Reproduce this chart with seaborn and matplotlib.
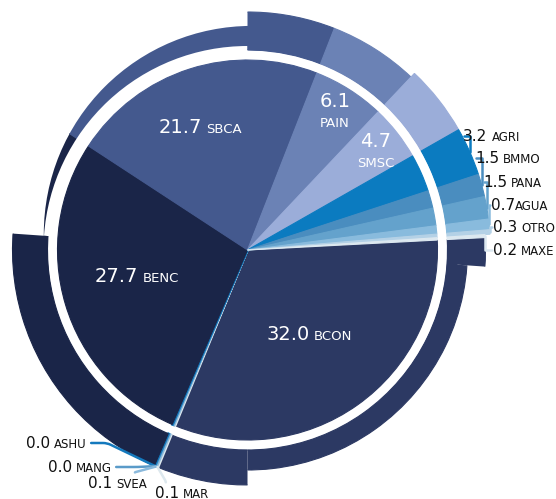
import matplotlib
matplotlib.use("Agg")
import matplotlib.pyplot as plt
import seaborn as sns
import numpy as np
from matplotlib.patches import Wedge, Circle
from matplotlib.offsetbox import TextArea, HPacker, VPacker, AnnotationBbox

sns.set_theme(style="white")
plt.rcParams["font.family"] = ["DejaVu Sans"]

# shares (%), in drawing order (clockwise from the right)
categories = ["BCON", "MAR", "SVEA", "MANG", "ASHU", "BENC", "SBCA", "PAIN",
              "SMSC", "AGRI", "BMMO", "PANA", "AGUA", "OTRO", "MAXE"]
shares = [32.0, 0.1, 0.1, 0.04, 0.04, 27.7, 21.7, 6.1,
          4.7, 3.2, 1.5, 1.5, 0.7, 0.3, 0.2]
colors = ["#2c3963", "#dde8ee", "#8ab9dc", "#5a9bc9", "#1479bd", "#1a2548",
          "#44598e", "#6b82b5", "#9badd9", "#0b7bc0", "#4a8dbf", "#64a2cc",
          "#89bbdd", "#b4d1e6", "#dce8f0"]

W, H = 556, 499


def px(x, y):
    # pixel position (y from top) -> data coords
    return (x, H - y)


CX, CY = px(247.5, 250)
START = 3

fig = plt.figure(figsize=(W / 100, H / 100), dpi=100)
ax = fig.add_axes([0, 0, 1, 1])


def pie(radius, width=None, center=(CX, CY)):
    wp = dict(linewidth=0.8)
    if width:
        wp["width"] = width
    wedges, _ = ax.pie(shares, colors=colors, startangle=START, counterclock=False,
                       radius=radius, center=center, wedgeprops=wp)
    for w, v in zip(wedges, shares):
        w.set_edgecolor(w.get_facecolor())
        if v < 0.2:
            w.set_linewidth(1.6)   # keep the tiny slices visible
    return wedges


def clip_all(wedges, patch):
    for w in wedges:
        w.set_clip_on(True)
        w.set_clip_path(patch)


# === outer ring ===
# upper-left quarter: off-centre outer edge, tapers out on the left
q2 = pie(300)
clip_all(q2, Circle((CX + 4.3, CY + 16.1), 208, transform=ax.transData))
ax.add_patch(Wedge((CX, CY), 204, 90, 176, facecolor="white", edgecolor="none"))
ax.add_patch(Circle((CX, CY), 200, facecolor="white", edgecolor="none"))

wide = ["SMSC", "AGRI", "BMMO", "PANA", "AGUA", "OTRO"]
rings = {}
for name, a0, a1, r, wd in [("q1", -4, 90, 238, 38), ("q3", 176, 270, 235, 35),
                            ("q4", 270, 356, 220, 20)]:
    ws = pie(r, wd)
    clip_all(ws, Wedge((CX, CY), 300, a0, a1, transform=ax.transData))
    if name == "q1":
        for w, cat in zip(ws, categories):
            if cat in wide:
                w.set_radius(243)
                w.set_width(43)
    rings[name] = dict(zip(categories, ws))

# === inner pie ===
inner = pie(190)

# === labels ===
def two_part(num, name, s_num, s_name, color, stacked=False, sep=3):
    a = TextArea(num, textprops=dict(size=s_num, color=color))
    b = TextArea(name, textprops=dict(size=s_name, color=color))
    if stacked:
        return VPacker(children=[a, b], align="center", pad=0, sep=4)
    return HPacker(children=[a, b], align="baseline", pad=0, sep=sep)


val = dict(zip(categories, shares))
col = dict(zip(categories, colors))

inner_pos = {"BCON": (309, 335), "BENC": (137, 276), "SBCA": (200, 127),
             "PAIN": (335, 111), "SMSC": (376, 151)}
for cat, (x, y) in inner_pos.items():
    box = two_part(f"{val[cat]:.1f}", cat, 14, 9.5, "white",
                   stacked=cat in ("PAIN", "SMSC"))
    ax.add_artist(AnnotationBbox(box, px(x, y), frameon=False, pad=0,
                                 box_alignment=(0.5, 0.5), zorder=5))


def edge_point(w):
    m = np.deg2rad((w.theta1 + w.theta2) / 2)
    return (CX + w.r * np.cos(m), CY + w.r * np.sin(m))


right_pos = {"AGRI": (463, 136), "BMMO": (475, 158), "PANA": (483, 182),
             "AGUA": (491, 205), "OTRO": (493, 227), "MAXE": (493, 250)}
for cat, (x, y) in right_pos.items():
    box = two_part(f"{val[cat]:.1f}", cat, 11, 8.5, "#111111",
                   sep=0 if cat == "AGUA" else 3)
    ab = AnnotationBbox(box, edge_point(rings["q1"][cat]), xybox=px(x, y),
                        xycoords="data", boxcoords="data", frameon=False, pad=0,
                        box_alignment=(0, 0.5), zorder=5,
                        arrowprops=dict(arrowstyle="-", color=col[cat], lw=1.8,
                                        connectionstyle="angle,angleA=0,angleB=90,rad=0",
                                        relpos=(0, 0.5), patchA=None,
                                        shrinkA=1, shrinkB=0))
    ax.add_artist(ab)

bottom_pos = {"ASHU": ((87, 443), (1, 0.5), (1, 0.5), "arc,angleA=0,armA=20,rad=4"),
              "MANG": ((112, 467), (1, 0.5), (1, 0.5), "arc,angleA=0,armA=26,rad=4"),
              "SVEA": ((147, 484), (1, 0.5), (0.78, 1), "arc,angleA=90,armA=4,rad=2"),
              "MAR": ((155, 494), (0, 0.5), (0.2, 1), "arc,angleA=90,armA=5,rad=2")}
for cat, ((x, y), align, rel, conn) in bottom_pos.items():
    box = two_part(f"{val[cat]:.1f}", cat, 11, 8.5, "#111111")
    ab = AnnotationBbox(box, edge_point(rings["q3"][cat]), xybox=px(x, y),
                        xycoords="data", boxcoords="data", frameon=False, pad=0,
                        box_alignment=align, zorder=5,
                        arrowprops=dict(arrowstyle="-", color=col[cat], lw=1.8,
                                        connectionstyle=conn, relpos=rel,
                                        patchA=None, shrinkA=3, shrinkB=0))
    ax.add_artist(ab)

ax.set_xlim(0, W)
ax.set_ylim(0, H)
ax.set_aspect("equal")
ax.axis("off")
fig.savefig("out.png", dpi=100)
